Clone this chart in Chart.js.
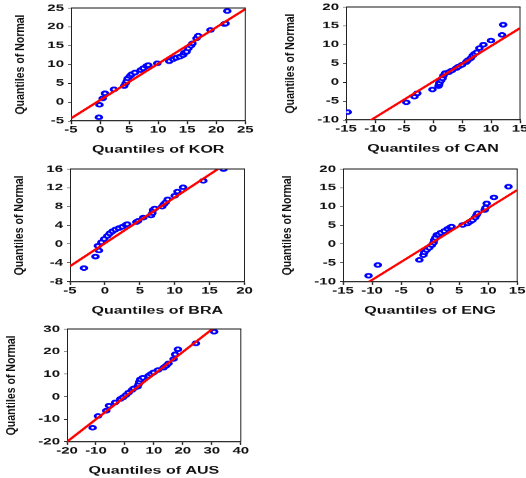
<!DOCTYPE html>
<html>
<head>
<meta charset="utf-8">
<script src="https://cdn.jsdelivr.net/npm/chart.js@4/dist/chart.umd.min.js"></script>
<style>
  html, body { margin: 0; padding: 0; background: #fff; overflow: hidden; }
  body { width: 526px; height: 478px; position: relative; }
  .panel { position: absolute; transform-origin: 0 0; }
</style>
</head>
<body>
<script>
// every panel is drawn tall and squashed vertically, like the original figure
const SQUASH = 0.65;

// KOR
const korX = [-0.2, -0.1, 0.45, 0.85, 2.4, 4.15, 4.4, 4.6, 4.75, 5.15, 5.45, 6.0, 7.0, 7.45, 8.0, 8.3, 9.85, 11.9, 12.6, 13.1, 13.75, 14.3, 14.5, 14.9, 15.2, 15.65, 15.9, 16.6, 16.9, 19.0, 21.4, 21.6, 21.9];
const korY = [-4.0, -0.7, 1.0, 2.35, 3.4, 4.3, 5.0, 5.6, 6.3, 6.95, 7.4, 7.85, 8.55, 9.0, 9.6, 9.85, 10.3, 10.9, 11.45, 11.8, 12.1, 12.5, 13.1, 13.4, 14.3, 15.0, 15.6, 16.95, 17.65, 19.15, 20.75, 20.9, 24.2];
const korLineX = [-5, 25];
const korLineY = [-4.3, 24.7];
const korXTicks = [-5, 25, 5];   // min, max, step
const korYTicks = [-5, 25, 5];

// CAN
const canX = [-14.7, -4.6, -3.2, -2.7, -0.1, 0.95, 1.05, 1.1, 1.4, 1.65, 1.8, 2.1, 2.7, 3.25, 4.0, 4.4, 5.0, 5.7, 5.95, 6.5, 6.85, 7.15, 7.55, 8.0, 8.7, 10.0, 11.9, 12.1];
const canY = [-7.9, -5.3, -3.8, -2.9, -1.9, -1.0, -0.6, -0.15, 0.5, 1.1, 1.8, 2.45, 2.7, 3.15, 3.75, 4.2, 4.65, 5.35, 5.8, 6.4, 7.1, 7.6, 8.0, 9.1, 10.0, 11.1, 12.6, 15.3];
const canLineX = [-10.7, 15];
const canLineY = [-10, 14.4];
const canXTicks = [-15, 15, 5];
const canYTicks = [-10, 20, 5];

// BRA
const braX = [-3.0, -1.35, -0.85, -1.0, -0.5, -0.1, 0.35, 0.7, 1.1, 1.5, 2.0, 2.5, 3.0, 3.2, 4.5, 4.75, 5.5, 6.6, 6.8, 6.9, 7.15, 8.2, 8.45, 8.7, 9.0, 10.0, 10.4, 11.2, 14.1, 17.0];
const braY = [-5.1, -2.65, -1.35, -0.35, 0.4, 1.1, 1.75, 2.3, 2.75, 3.1, 3.4, 3.7, 4.1, 4.25, 4.7, 4.95, 5.65, 6.1, 6.6, 7.3, 7.6, 8.0, 8.5, 8.9, 9.55, 10.3, 11.2, 12.1, 13.5, 16.0];
const braLineX = [-5, 16.2];
const braLineY = [-4.7, 16];
const braXTicks = [-5, 20, 5];
const braYTicks = [-8, 16, 4];

// ENG
const engX = [-10.6, -9.0, -1.85, -1.15, -1.0, -0.6, -0.15, 0.3, 0.6, 0.7, 0.9, 1.15, 1.4, 1.85, 2.45, 3.0, 3.45, 3.7, 5.6, 6.45, 6.9, 7.3, 7.75, 8.0, 8.15, 9.4, 9.55, 9.75, 11.0, 13.5];
const engY = [-8.4, -5.55, -4.2, -2.9, -2.2, -1.55, -0.95, -0.25, 0.4, 1.1, 1.7, 2.45, 2.6, 3.05, 3.5, 4.05, 4.45, 4.65, 5.1, 5.55, 6.0, 6.4, 7.1, 7.75, 8.2, 9.1, 9.7, 10.85, 12.45, 15.3];
const engLineX = [-10.5, 15];
const engLineY = [-10, 14.4];
const engXTicks = [-15, 15, 5];
const engYTicks = [-10, 20, 5];

// AUS
const ausX = [-11.15, -9.3, -6.45, -5.5, -3.35, -1.6, -0.7, 0.35, 1.25, 2.4, 3.0, 4.35, 4.7, 4.95, 5.3, 6.2, 8.15, 9.0, 9.9, 11.4, 13.35, 14.25, 15.05, 16.8, 17.35, 18.3, 24.5, 30.8];
const ausY = [-13.8, -8.6, -6.25, -4.0, -2.55, -1.05, -0.35, 0.7, 1.75, 2.95, 3.65, 4.4, 5.45, 6.6, 7.65, 8.4, 9.3, 10.05, 10.75, 11.8, 12.85, 13.75, 14.75, 16.7, 18.75, 21.0, 23.65, 28.8];
const ausLineX = [-20, 30.2];
const ausLineY = [-20, 30];
const ausXTicks = [-20, 40, 10];
const ausYTicks = [-20, 30, 10];

// plot rectangle of each panel on the page: left, top, right, bottom
const panels = [
  { name: 'KOR', xs: korX, ys: korY, lx: korLineX, ly: korLineY, xt: korXTicks, yt: korYTicks, plot: [70.7, 8, 245, 121], gap: 51 },
  { name: 'CAN', xs: canX, ys: canY, lx: canLineX, ly: canLineY, xt: canXTicks, yt: canYTicks, plot: [345.5, 7, 519.5, 120], gap: 56 },
  { name: 'BRA', xs: braX, ys: braY, lx: braLineX, ly: braLineY, xt: braXTicks, yt: braYTicks, plot: [70, 169, 244.5, 281.7], gap: 51 },
  { name: 'ENG', xs: engX, ys: engY, lx: engLineX, ly: engLineY, xt: engXTicks, yt: engYTicks, plot: [343.3, 169, 517.5, 281.7], gap: 56 },
  { name: 'AUS', xs: ausX, ys: ausY, lx: ausLineX, ly: ausLineY, xt: ausXTicks, yt: ausYTicks, plot: [66.7, 329, 240.5, 441.7], gap: 56 }
];

const FONT = '"Liberation Sans", Arial, sans-serif';
const INK = '#111';
const AXIS = '#222';

// closes the box on top/right and writes the condensed vertical title
const frame = {
  id: 'frame',
  afterDraw(chart, args, opts) {
    const { ctx, chartArea: a } = chart;
    ctx.save();
    ctx.strokeStyle = AXIS;
    ctx.lineWidth = 1.6;
    ctx.beginPath(); ctx.moveTo(a.left, a.top); ctx.lineTo(a.right + 0.5, a.top); ctx.stroke();
    ctx.lineWidth = 1;
    ctx.beginPath(); ctx.moveTo(a.right, a.top); ctx.lineTo(a.right, a.bottom); ctx.stroke();

    ctx.fillStyle = INK;
    ctx.font = 'bold 13px ' + FONT;
    ctx.translate(a.left - opts.gap, (a.top + a.bottom) / 2);
    ctx.rotate(-Math.PI / 2);
    const w = ctx.measureText(opts.text).width;
    ctx.scale(opts.length / w, 1);
    ctx.textAlign = 'center';
    ctx.textBaseline = 'middle';
    ctx.fillText(opts.text, 0, 0);
    ctx.restore();
  }
};

const Y_AXIS_W = 70;
const PAD_TOP = 10;      // page px above the plot
const PAD_RIGHT = 14;
const TITLE_GAP = 29;    // page px from plot bottom to x title centre

panels.forEach(p => {
  const [l, t, r, b] = p.plot;
  const plotW = r - l;
  const plotH = (b - t) / SQUASH;
  const padTop = PAD_TOP / SQUASH;
  const xScaleH = TITLE_GAP / SQUASH + 9.6;
  const cw = Math.ceil(Y_AXIS_W + plotW + PAD_RIGHT);
  const ch = Math.ceil(padTop + plotH + xScaleH);

  const div = document.createElement('div');
  div.className = 'panel';
  div.style.left = (l - Y_AXIS_W) + 'px';
  div.style.top = (t - PAD_TOP) + 'px';
  div.style.transform = 'scaleY(' + SQUASH + ')';
  const canvas = document.createElement('canvas');
  canvas.width = cw;
  canvas.height = ch;
  div.appendChild(canvas);
  document.body.appendChild(div);

  new Chart(canvas, {
    type: 'scatter',
    data: {
      datasets: [
        {
          type: 'line',
          data: p.lx.map((x, i) => ({ x, y: p.ly[i] })),
          borderColor: '#ff0000',
          borderWidth: 3,
          pointRadius: 0,
          fill: false
        },
        {
          data: p.xs.map((x, i) => ({ x, y: p.ys[i] })),
          pointStyle: 'circle',
          pointRadius: 2.9,
          borderWidth: 2.8,
          borderColor: '#0000ff',
          backgroundColor: '#ffffff'
        }
      ]
    },
    options: {
      responsive: false,
      devicePixelRatio: 1,
      animation: false,
      events: [],
      layout: {
        padding: { top: padTop, right: cw - Y_AXIS_W - plotW, bottom: ch - padTop - plotH - xScaleH, left: 0 }
      },
      plugins: {
        legend: { display: false },
        tooltip: { enabled: false },
        frame: { text: 'Quantiles of Normal', gap: p.gap, length: 100 / SQUASH }
      },
      scales: {
        x: {
          type: 'linear',
          min: p.xt[0], max: p.xt[1],
          afterFit: s => { s.height = xScaleH; },
          ticks: {
            stepSize: p.xt[2], autoSkip: false, maxRotation: 0, minRotation: 0,
            padding: 0, color: INK, font: { family: FONT, size: 15, weight: 'bold' }
          },
          grid: { drawOnChartArea: false, drawTicks: true, tickLength: 5, color: AXIS, tickWidth: 1.4 },
          border: { display: true, color: AXIS, width: 1.6 },
          title: {
            display: true, text: 'Quantiles of ' + p.name, color: INK, padding: 0,
            font: { family: FONT, size: 16, weight: 'bold' }
          }
        },
        y: {
          type: 'linear',
          min: p.yt[0], max: p.yt[1],
          afterFit: s => { s.width = Y_AXIS_W; },
          ticks: {
            stepSize: p.yt[2], autoSkip: false, padding: 4, color: INK,
            font: { family: FONT, size: 15, weight: 'bold' }
          },
          grid: { drawOnChartArea: false, drawTicks: true, tickLength: 3, color: AXIS },
          border: { display: true, color: AXIS, width: 1 }
        }
      }
    },
    plugins: [frame]
  });
});
</script>
</body>
</html>
